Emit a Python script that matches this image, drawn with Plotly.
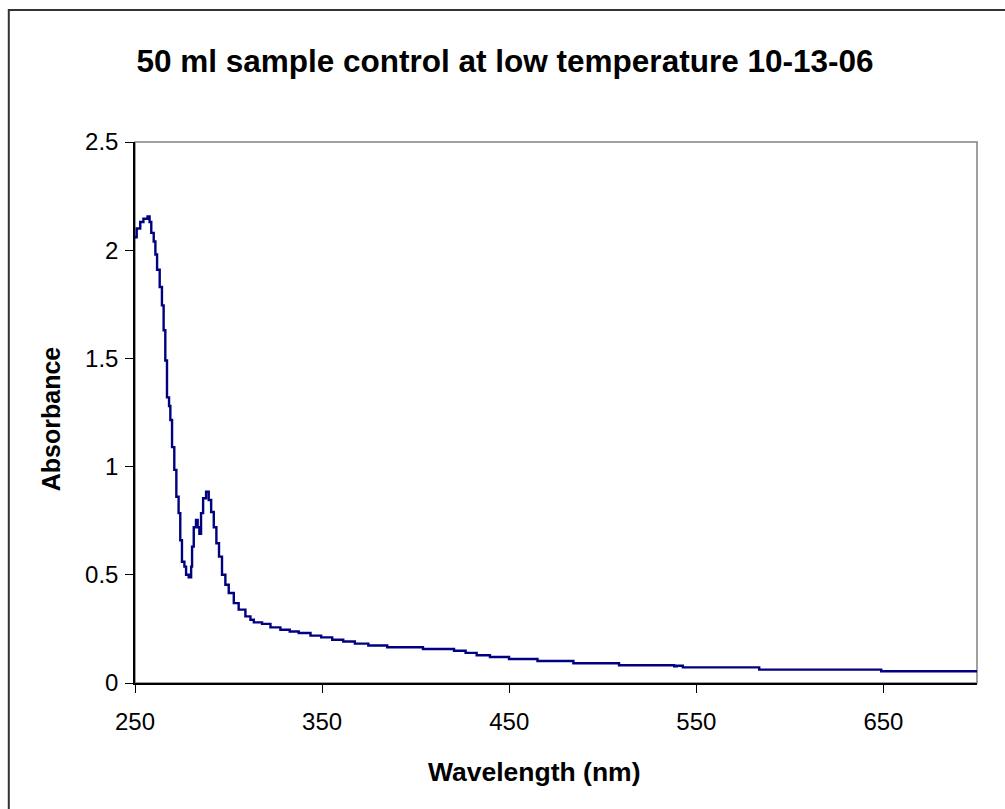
import plotly.graph_objects as go

# Data
wavelength = [250, 250.9, 252.8, 254.5, 256.7, 257.8, 258.7, 260, 260.9, 261.8,
              263.2, 264.4, 265.3, 266.2, 267.1, 268.2, 268.9, 269.8, 271, 272.1,
              273.3, 274.2, 275.1, 276.4, 277.3, 278.7, 280, 280.5, 281.4, 282.6,
              283.5, 284.4, 285.3, 286.4, 288, 289.4, 290.7, 292.1, 293.5, 294.9,
              296.5, 298.3, 300.1, 302.8, 305.4, 309, 311.7, 313.5, 317.9, 322.4,
              327.7, 332.7, 337.5, 343.8, 349.5, 355.4, 361.3, 367.5, 374.7, 384.8,
              403.9, 420.5, 426.7, 432.6, 439.7, 449.9, 465.1, 484.3, 508.7, 538.2,
              539.6, 542.8, 583.6, 648.8, 700]
absorbance = [2.06, 2.10, 2.13, 2.145, 2.156, 2.13, 2.08, 2.04, 1.98, 1.91,
              1.83, 1.745, 1.63, 1.49, 1.32, 1.28, 1.215, 1.09, 0.985, 0.861,
              0.785, 0.66, 0.56, 0.538, 0.50, 0.488, 0.538, 0.63, 0.72, 0.754,
              0.72, 0.69, 0.785, 0.854, 0.884, 0.846, 0.79, 0.72, 0.646, 0.584,
              0.50, 0.454, 0.416, 0.369, 0.339, 0.308, 0.292, 0.280, 0.273, 0.257,
              0.246, 0.238, 0.231, 0.219, 0.211, 0.200, 0.192, 0.182, 0.173, 0.165,
              0.157, 0.149, 0.139, 0.128, 0.120, 0.111, 0.102, 0.091, 0.082, 0.077,
              0.080, 0.072, 0.062, 0.054, 0.054]

title_text = "50 ml sample control at low temperature 10-13-06"
x_title = "Wavelength (nm)"
y_title = "Absorbance"

W, H = 1005, 809
L, R, T, B = 134.7, 976.7, 141.7, 683.4
pw, ph = R - L, B - T

def px_x(px):
    return (px - L) / pw

def px_y(py):
    return (B - py) / ph

font_family = "Liberation Sans, Arial, sans-serif"

fig = go.Figure()
fig.add_trace(go.Scatter(
    x=wavelength, y=absorbance, mode="lines",
    line=dict(color="#000080", width=2.4, shape="hv"),
    showlegend=False, hoverinfo="skip",
))

fig.update_layout(
    width=W, height=H,
    margin=dict(l=L, r=W - R, t=T, b=H - B, pad=0),
    paper_bgcolor="white", plot_bgcolor="white",
    font=dict(family=font_family, color="black"),
    title=dict(text="<b>" + title_text + "</b>", x=505 / W, xanchor="center",
               y=1 - 61 / H, yanchor="middle",
               font=dict(size=31.5, family=font_family, color="black")),
    xaxis=dict(range=[250, 700], tick0=250, dtick=100, showgrid=False,
               zeroline=False, showline=True, linecolor="black", linewidth=1.5,
               ticks="outside", ticklen=8, tickcolor="black", tickwidth=1,
               ticklabelstandoff=8,
               tickfont=dict(size=24, family=font_family, color="black")),
    yaxis=dict(range=[0, 2.5], dtick=0.5, showgrid=False, zeroline=False,
               showline=True, linecolor="black", linewidth=1.5,
               ticks="outside", ticklen=8, tickcolor="black", tickwidth=1,
               ticklabelstandoff=2,
               tickfont=dict(size=24, family=font_family, color="black")),
    shapes=[
        dict(type="rect", xref="paper", yref="paper", x0=0, x1=1, y0=0, y1=1,
             line=dict(color="#808080", width=1.5), layer="below"),
        dict(type="rect", xref="paper", yref="paper",
             x0=px_x(8.5), x1=px_x(1015), y0=px_y(820), y1=px_y(9.5),
             line=dict(color="#333333", width=2), layer="below"),
    ],
    annotations=[
        dict(text="<b>" + x_title + "</b>", xref="paper", yref="paper",
             x=px_x(534), y=px_y(773), xanchor="center", yanchor="middle",
             showarrow=False, font=dict(size=26.5, family=font_family, color="black")),
        dict(text="<b>" + y_title + "</b>", xref="paper", yref="paper",
             x=px_x(51), y=px_y(419), xanchor="center", yanchor="middle",
             textangle=-90, showarrow=False,
             font=dict(size=25, family=font_family, color="black")),
    ],
)

fig.write_html("out.html")
